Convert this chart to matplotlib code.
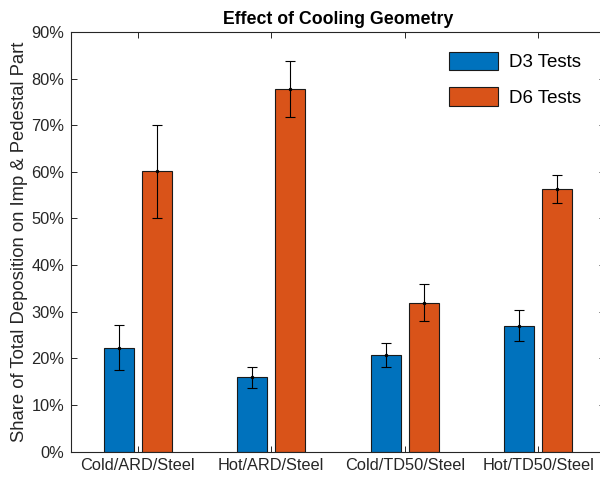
import matplotlib
matplotlib.use('Agg')
import matplotlib.pyplot as plt
import numpy as np

plt.rcParams['font.family'] = ['Liberation Sans', 'DejaVu Sans']

categories = ['Cold/ARD/Steel', 'Hot/ARD/Steel', 'Cold/TD50/Steel', 'Hot/TD50/Steel']
d3_mean = [22.3, 15.9, 20.7, 27.0]
d3_err = [4.8, 2.3, 2.5, 3.4]
d6_mean = [60.1, 77.8, 31.9, 56.3]
d6_err = [9.9, 6.0, 4.0, 3.0]
series_names = ['D3 Tests', 'D6 Tests']
yticks = np.arange(0, 91, 10)

blue = '#0072BD'
orange = '#D95319'
dark = '#262626'

fig = plt.figure(figsize=(6, 4.78), dpi=100)
ax = fig.add_axes([71 / 600, 26.5 / 478, 534 / 600, 419.5 / 478])

x = np.arange(1, len(categories) + 1)
w = 0.225
off = 0.142

for vals, errs, col, name, sign in [(d3_mean, d3_err, blue, series_names[0], -1),
                                     (d6_mean, d6_err, orange, series_names[1], 1)]:
    xs = x + sign * off
    ax.bar(xs, vals, width=w, color=col, edgecolor='#1a1a1a', linewidth=0.8,
           label=name, zorder=2)
    ax.errorbar(xs, vals, yerr=errs, fmt='.', color='black', markersize=3,
                ecolor='black', elinewidth=0.8, capsize=3.8, capthick=0.8, zorder=3)

ax.set_xlim(0.5, 4.5)
ax.set_ylim(0, 90)
ax.set_xticks(x)
ax.set_xticklabels(categories)
ax.set_yticks(yticks)
ax.set_yticklabels([f'{v}%' for v in yticks])

ax.tick_params(direction='in', top=True, right=True, length=4, width=0.7,
               colors=dark, labelsize=11.8, pad=5)
for s in ax.spines.values():
    s.set_color(dark)
    s.set_linewidth(0.8)

ax.set_ylabel('Share of Total Deposition on Imp & Pedestal Part',
              fontsize=13.3, color=dark, labelpad=2)
ax.set_title('Effect of Cooling Geometry', fontsize=12.8, fontweight='bold',
             color='black', pad=6)

ax.legend(loc='upper right', bbox_to_anchor=(0.986, 0.993), frameon=False,
          fontsize=13.5, handlelength=2.6, handleheight=1.15,
          handletextpad=0.55, labelspacing=0.85)

fig.savefig('out.png', dpi=100)
